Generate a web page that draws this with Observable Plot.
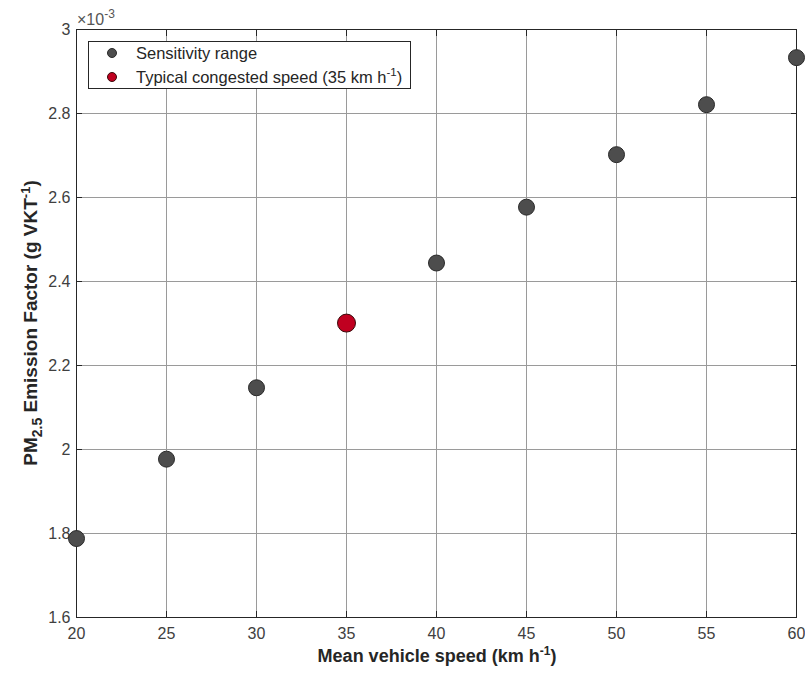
<!DOCTYPE html>
<html>
<head>
<meta charset="utf-8">
<script src="https://cdn.jsdelivr.net/npm/d3@7"></script>
<script src="https://cdn.jsdelivr.net/npm/@observablehq/plot@0.6"></script>
<style>
  html, body { margin: 0; padding: 0; background: #fff; }
  #chart { width: 805px; height: 673px; }
  svg { font-family: "Liberation Sans", Arial, Helvetica, sans-serif; }
</style>
</head>
<body>
<div id="chart"></div>
<script>
// Data (emission factor in units of 1e-3 g/VKT)
const speeds = [20, 25, 30, 35, 40, 45, 50, 55, 60];
const emissionFactors = [1.788, 1.977, 2.147, 2.301, 2.444, 2.577, 2.702, 2.821, 2.933];
const typicalSpeed = [35];
const typicalFactor = [2.301];
const xTicks = [20, 25, 30, 35, 40, 45, 50, 55, 60];
const yTicks = [1.6, 1.8, 2, 2.2, 2.4, 2.6, 2.8, 3];
const yTickLabels = ["1.6", "1.8", "2", "2.2", "2.4", "2.6", "2.8", "3"];
const legendLabels = ["Sensitivity range", "Typical congested speed (35 km h", ")"];

const sens = speeds.map((s, i) => ({speed: s, ef: emissionFactors[i]}));
const typ = typicalSpeed.map((s, i) => ({speed: s, ef: typicalFactor[i]}));

const axisColor = "#262626";
const tickColor = "#404040";
const tickFont = 16;

const chart = Plot.plot({
  width: 805,
  height: 673,
  marginLeft: 76,
  marginRight: 9,
  marginTop: 29,
  marginBottom: 56,
  style: {fontFamily: '"Liberation Sans", Arial, Helvetica, sans-serif', background: "#fff", overflow: "visible"},
  x: {domain: [20, 60], label: null},
  y: {domain: [1.6, 3], label: null},
  marks: [
    Plot.gridX(xTicks, {stroke: "#9a9a9a", strokeOpacity: 1, strokeWidth: 1}),
    Plot.gridY(yTicks, {stroke: "#9a9a9a", strokeOpacity: 1, strokeWidth: 1}),
    Plot.axisX(xTicks, {anchor: "bottom", tickSize: -6, tickPadding: 16, fontSize: tickFont, fill: tickColor, stroke: axisColor, tickFormat: d => String(d), label: null}),
    Plot.axisX(xTicks, {anchor: "top", tickSize: -6, tickFormat: () => "", stroke: axisColor, label: null}),
    Plot.axisY(yTicks, {anchor: "left", tickSize: -6, tickPadding: 12, fontSize: tickFont, fill: tickColor, stroke: axisColor, tickFormat: (d, i) => yTickLabels[i], label: null}),
    Plot.axisY(yTicks, {anchor: "right", tickSize: -6, tickFormat: () => "", stroke: axisColor, label: null}),
    Plot.frame({stroke: axisColor, strokeWidth: 1}),
    Plot.dot(sens, {x: "speed", y: "ef", r: 8, fill: "#4d4d4d", stroke: "#2a2a2a", strokeWidth: 1}),
    Plot.dot(typ, {x: "speed", y: "ef", r: 9, fill: "#c00020", stroke: "#3a0a0a", strokeWidth: 1})
  ]
});

document.getElementById("chart").appendChild(chart);

// Annotations: exponent, axis labels, legend
const svg = d3.select(chart);
const ff = '"Liberation Sans", Arial, Helvetica, sans-serif';

// x10^-3 exponent
const ex = svg.append("text").attr("x", 77).attr("y", 25).attr("text-anchor", "start")
  .attr("font-size", 16).attr("fill", "#555").attr("font-family", ff);
ex.append("tspan").text("\u00d710");
ex.append("tspan").attr("dy", -7).attr("font-size", 12).text("-3");

// X label
const xl = svg.append("text").attr("x", 437).attr("y", 662).attr("text-anchor", "middle")
  .attr("font-size", 18).attr("font-weight", "bold").attr("fill", axisColor).attr("font-family", ff);
xl.append("tspan").text("Mean vehicle speed (km h");
xl.append("tspan").attr("dy", -7).attr("font-size", 12).text("-1");
xl.append("tspan").attr("dy", 7).text(")");

// Y label
const yl = svg.append("text").attr("transform", "translate(37,323) rotate(-90)").attr("text-anchor", "middle")
  .attr("font-size", 19).attr("font-weight", "bold").attr("fill", axisColor).attr("font-family", ff);
yl.append("tspan").text("PM");
yl.append("tspan").attr("dy", 5).attr("font-size", 14).text("2.5");
yl.append("tspan").attr("dy", -5).text(" Emission Factor (g VKT");
yl.append("tspan").attr("dy", -7).attr("font-size", 13).text("-1");
yl.append("tspan").attr("dy", 7).text(")");

// Legend
const lg = svg.append("g").attr("font-family", ff).attr("text-anchor", "start");
lg.append("rect").attr("x", 88.5).attr("y", 41.5).attr("width", 322).attr("height", 47)
  .attr("fill", "#fff").attr("stroke", axisColor).attr("stroke-width", 1);
lg.append("circle").attr("cx", 112).attr("cy", 53).attr("r", 4.5).attr("fill", "#4d4d4d").attr("stroke", "#2a2a2a");
lg.append("circle").attr("cx", 112).attr("cy", 77).attr("r", 4.5).attr("fill", "#c00020").attr("stroke", "#3a0a0a");
lg.append("text").attr("x", 136).attr("y", 59).attr("font-size", 16.5).attr("fill", axisColor).text(legendLabels[0]);
const t2 = lg.append("text").attr("x", 136).attr("y", 83).attr("font-size", 16.5).attr("fill", axisColor);
t2.append("tspan").text(legendLabels[1]);
t2.append("tspan").attr("dy", -7).attr("font-size", 11.5).text("-1");
t2.append("tspan").attr("dy", 7).text(legendLabels[2]);
</script>
</body>
</html>
